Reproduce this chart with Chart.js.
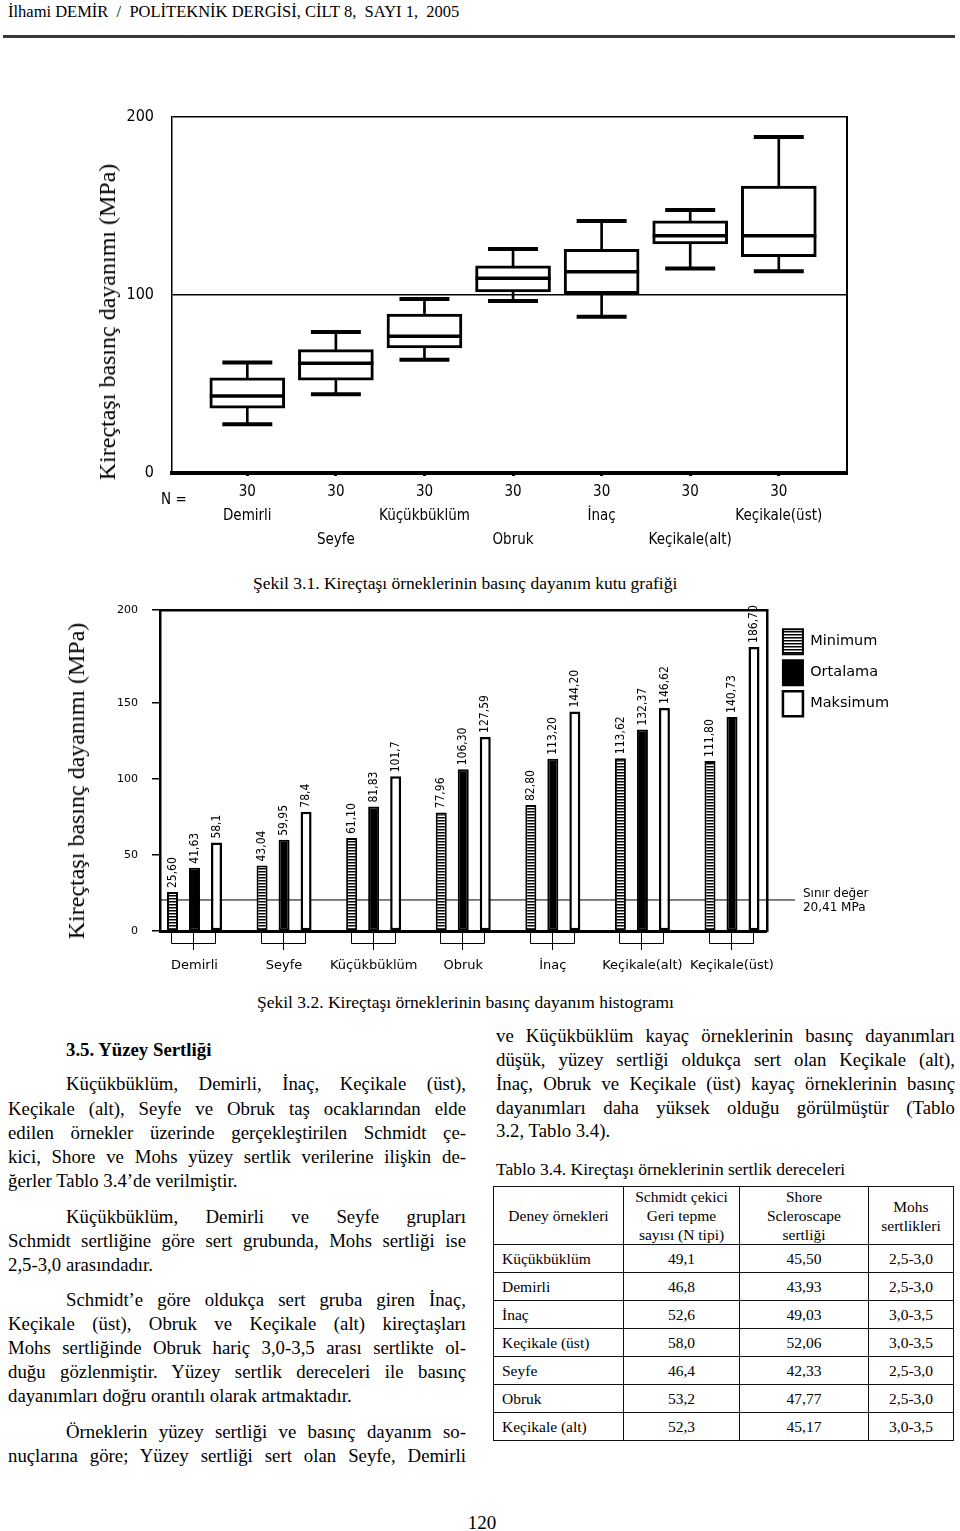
<!DOCTYPE html>
<html lang="tr">
<head>
<meta charset="utf-8">
<title>Kireçtaşı örneklerinin basınç dayanımı</title>
<script src="https://cdn.jsdelivr.net/npm/chart.js@4.4.1/dist/chart.umd.min.js"></script>
<style>
  html, body { margin: 0; padding: 0; background: #fff; }
  #page { position: relative; width: 960px; height: 1531px; overflow: hidden; color: #000;
          font-family: "Liberation Serif", "Times New Roman", serif; }
  .abs { position: absolute; white-space: pre; }
  .ln { position: absolute; white-space: nowrap; font-size: 18.8px; line-height: 24px; height: 24px; }
  .L  { left: 8px;  width: 458px; }
  .Li { left: 66px; width: 400px; }
  .R  { left: 496px; width: 459px; }
  .j  { text-align: justify; text-align-last: justify; }
  canvas { position: absolute; }
  .ytitle { position: absolute; white-space: nowrap; font-size: 24px; line-height: 28px;
            transform: translate(-50%, -50%) rotate(-90deg); }
  #tab { position: absolute; left: 493px; top: 1186px; border-collapse: collapse; table-layout: fixed;
         width: 460px; font-size: 15.5px; }
  #tab td { border: 1.3px solid #111; padding: 0; vertical-align: middle; text-align: center; height: 27px; }
  #tab tr.hd td { height: 57px; line-height: 19px; }
  #tab td.nm { text-align: left; padding-left: 8px; }
</style>
</head>
<body>
<div id="page">
  <div class="abs" style="left:8px;top:2px;font-size:16.5px;line-height:20px;">İlhami DEMİR  /  POLİTEKNİK DERGİSİ, CİLT 8,  SAYI 1,  2005</div>
  <div style="position:absolute;left:3px;top:35px;width:952px;height:3px;background:#3a3a3a;"></div>

  <!-- Şekil 3.1 kutu grafiği -->
  <canvas id="boxChart" width="800" height="470" style="left:60px;top:100px;"></canvas>
  <div class="ytitle" style="left:107px;top:322px;">Kireçtaşı basınç dayanımı (MPa)</div>
  <div class="abs" style="left:161px;top:489px;font-size:15px;line-height:20px;font-family:'Liberation Sans Narrow','DejaVu Sans Condensed',sans-serif;">N =</div>
  <div class="abs" style="left:253px;top:571px;font-size:17.5px;line-height:24px;">Şekil 3.1. Kireçtaşı örneklerinin basınç dayanım kutu grafiği</div>

  <!-- Şekil 3.2 histogram -->
  <canvas id="barChart" width="849" height="380" style="left:60px;top:595px;"></canvas>
  <div class="ytitle" style="left:76px;top:781px;">Kireçtaşı basınç dayanımı (MPa)</div>
  <div class="abs" style="left:257px;top:990px;font-size:17.5px;line-height:24px;">Şekil 3.2. Kireçtaşı örneklerinin basınç dayanım histogramı</div>

  <!-- sol sütun -->
  <div class="ln Li" style="top:1038px;font-weight:bold;">3.5. Yüzey Sertliği</div>
  <div class="ln Li j" style="top:1072px;">Küçükbüklüm, Demirli, İnaç, Keçikale (üst),</div>
  <div class="ln L j" style="top:1097px;">Keçikale (alt), Seyfe ve Obruk taş ocaklarından elde</div>
  <div class="ln L j" style="top:1121px;">edilen örnekler üzerinde gerçekleştirilen  Schmidt çe-</div>
  <div class="ln L j" style="top:1145px;">kici, Shore ve Mohs yüzey sertlik verilerine ilişkin de-</div>
  <div class="ln L" style="top:1169px;">ğerler Tablo 3.4’de verilmiştir.</div>

  <div class="ln Li j" style="top:1205px;">Küçükbüklüm, Demirli ve Seyfe grupları</div>
  <div class="ln L j" style="top:1229px;">Schmidt sertliğine göre sert grubunda, Mohs sertliği ise</div>
  <div class="ln L" style="top:1253px;">2,5-3,0 arasındadır.</div>

  <div class="ln Li j" style="top:1288px;">Schmidt’e göre oldukça sert gruba giren İnaç,</div>
  <div class="ln L j" style="top:1312px;">Keçikale (üst), Obruk ve Keçikale (alt) kireçtaşları</div>
  <div class="ln L j" style="top:1336px;">Mohs sertliğinde Obruk hariç 3,0-3,5 arası sertlikte ol-</div>
  <div class="ln L j" style="top:1360px;">duğu gözlenmiştir. Yüzey sertlik dereceleri ile basınç</div>
  <div class="ln L" style="top:1384px;">dayanımları doğru orantılı olarak artmaktadır.</div>

  <div class="ln Li j" style="top:1420px;">Örneklerin yüzey sertliği ve basınç dayanım so-</div>
  <div class="ln L j" style="top:1444px;">nuçlarına göre; Yüzey sertliği sert olan Seyfe, Demirli</div>

  <!-- sağ sütun -->
  <div class="ln R j" style="top:1024px;">ve Küçükbüklüm kayaç örneklerinin basınç dayanımları</div>
  <div class="ln R j" style="top:1048px;">düşük, yüzey sertliği oldukça sert olan Keçikale (alt),</div>
  <div class="ln R j" style="top:1072px;">İnaç, Obruk ve Keçikale (üst) kayaç örneklerinin basınç</div>
  <div class="ln R j" style="top:1096px;">dayanımları daha yüksek  olduğu  görülmüştür (Tablo</div>
  <div class="ln R" style="top:1119px;">3.2, Tablo 3.4).</div>

  <div class="abs" style="left:496px;top:1157px;font-size:17.5px;line-height:24px;">Tablo 3.4. Kireçtaşı örneklerinin sertlik dereceleri</div>
  <table id="tab">
    <colgroup><col style="width:130px"><col style="width:116px"><col style="width:129px"><col style="width:85px"></colgroup>
    <tr class="hd"><td>Deney örnekleri</td><td>Schmidt çekici<br>Geri tepme<br>sayısı (N tipi)</td><td>Shore<br>Scleroscape<br>sertliği</td><td>Mohs<br>sertlikleri</td></tr>
    <tr><td class="nm">Küçükbüklüm</td><td>49,1</td><td>45,50</td><td>2,5-3,0</td></tr>
    <tr><td class="nm">Demirli</td><td>46,8</td><td>43,93</td><td>2,5-3,0</td></tr>
    <tr><td class="nm">İnaç</td><td>52,6</td><td>49,03</td><td>3,0-3,5</td></tr>
    <tr><td class="nm">Keçikale (üst)</td><td>58,0</td><td>52,06</td><td>3,0-3,5</td></tr>
    <tr><td class="nm">Seyfe</td><td>46,4</td><td>42,33</td><td>2,5-3,0</td></tr>
    <tr><td class="nm">Obruk</td><td>53,2</td><td>47,77</td><td>2,5-3,0</td></tr>
    <tr><td class="nm">Keçikale (alt)</td><td>52,3</td><td>45,17</td><td>3,0-3,5</td></tr>
  </table>

  <div class="abs" style="left:442px;top:1511px;width:80px;text-align:center;font-size:19px;line-height:24px;">120</div>
</div>

<script>
/* ── veriler (şekillerden okunan değerler) ── */
var sites = ['Demirli', 'Seyfe', 'Küçükbüklüm', 'Obruk', 'İnaç', 'Keçikale(alt)', 'Keçikale(üst)'];
var sampleN = [30, 30, 30, 30, 30, 30, 30];

// Şekil 3.1 kutu grafiği (MPa)
var whiskerLow  = [27.4, 44.2, 63.6, 96.6, 87.8, 114.9, 113.4];
var quart1      = [36.4, 52.2, 70.3, 101.8, 100.7, 128.7, 121.5];
var medians     = [43.2, 61.7, 76.8, 109.4, 113.1, 133.3, 133.3];
var quart3      = [53.5, 69.3, 89.3, 116.4, 125.6, 141.6, 161.2];
var whiskerHigh = [62.1, 79.2, 97.7, 125.8, 141.6, 147.7, 188.8];
var outliers    = [null, null, 91.6, null, null, null, null];
var boxTicks    = [0, 100, 200];

// Şekil 3.2 histogram (MPa)
var minStrength  = [25.60, 43.04, 61.10, 77.96, 82.80, 113.62, 111.80];
var meanStrength = [41.63, 59.95, 81.83, 106.30, 113.20, 132.37, 140.73];
var maxStrength  = [58.1, 78.4, 101.7, 127.59, 144.20, 146.62, 186.70];
var minText  = ['25,60', '43,04', '61,10', '77,96', '82,80', '113,62', '111,80'];
var meanText = ['41,63', '59,95', '81,83', '106,30', '113,20', '132,37', '140,73'];
var maxText  = ['58,1', '78,4', '101,7', '127,59', '144,20', '146,62', '186,70'];
var limitValue = 20.41;
// orijinal şekilde "200" etiketi çerçevenin üst kenarında duruyor (ölçekte ~211)
var barTickValues = [0, 50, 100, 150, 211];
var barTickLabels = ['0', '50', '100', '150', '200'];

var NARROW = '"Liberation Sans Narrow", "DejaVu Sans Condensed", "Arial Narrow", sans-serif';
var SANS = '"DejaVu Sans", Verdana, sans-serif';

/* ── helpers: eksenleri sabit boyutlu yap (etiket taşma payı da sıfır) ── */
function noPad(s) { s.paddingTop = s.paddingBottom = s.paddingLeft = s.paddingRight = 0; }
function fixW(w) { return function (s) { s.width = w; noPad(s); }; }
function fixH(h) { return function (s) { s.height = h; noPad(s); }; }
function siteTicks(s) { s.ticks = sites.map(function (_, i) { return { value: i + 1 }; }); }
function pts(arr) {
  return arr.map(function (v, i) { return v == null ? null : { x: i + 1, y: v }; }).filter(Boolean);
}
function stripes() {
  var c = document.createElement('canvas'); c.width = 4; c.height = 3;
  var g = c.getContext('2d');
  g.fillStyle = '#fff'; g.fillRect(0, 0, 4, 3);
  g.fillStyle = '#000'; g.fillRect(0, 0, 4, 1.5);
  return g.createPattern(c, 'repeat');
}

/* ── Şekil 3.1: kutu grafiği (yüzen çubuk + çizgi noktaları) ── */
new Chart(document.getElementById('boxChart'), {
  type: 'bar',
  data: {
    datasets: [
      { label: 'bıyık', data: sites.map(function (_, i) { return { x: i + 1, y: [whiskerLow[i], whiskerHigh[i]] }; }),
        backgroundColor: '#000', barThickness: 2, grouped: false, order: 3 },
      { label: 'kutu', data: sites.map(function (_, i) { return { x: i + 1, y: [quart1[i], quart3[i]] }; }),
        backgroundColor: '#fff', borderColor: '#000', borderWidth: 3, borderSkipped: false,
        barThickness: 75, grouped: false, order: 2 },
      { type: 'scatter', label: 'uçlar', data: pts(whiskerLow).concat(pts(whiskerHigh)),
        pointStyle: 'line', pointRadius: 25, pointBorderWidth: 4, pointBorderColor: '#000', order: 1 },
      { type: 'scatter', label: 'medyan', data: pts(medians),
        pointStyle: 'line', pointRadius: 37.5, pointBorderWidth: 3.5, pointBorderColor: '#000', order: 1 },
      { type: 'scatter', label: 'aykırı', data: pts(outliers),
        pointStyle: 'circle', pointRadius: 1.5, pointBackgroundColor: '#000', pointBorderWidth: 0, order: 0 }
    ]
  },
  options: {
    responsive: false, animation: false, events: [], devicePixelRatio: 1,
    layout: { autoPadding: false, padding: { left: 0, top: 17, right: 13, bottom: 0 } },
    plugins: { legend: { display: false }, tooltip: { enabled: false } },
    scales: {
      x: {
        type: 'linear', min: 0.15, max: 7.77, offset: false,
        afterBuildTicks: siteTicks, afterFit: fixH(97),
        grid: { offset: false, drawOnChartArea: false, drawTicks: true, tickLength: 3, tickWidth: 3, tickColor: '#000' },
        border: { color: '#000', width: 4 },
        ticks: {
          autoSkip: false, maxRotation: 0, padding: 4, color: '#000',
          font: { family: NARROW, size: 15, lineHeight: '24px' },
          callback: function (v) {
            var i = v - 1;
            return i % 2 ? [String(sampleN[i]), '', sites[i]] : [String(sampleN[i]), sites[i]];
          }
        }
      },
      y: {
        min: 0, max: 200,
        afterBuildTicks: function (s) { s.ticks = boxTicks.map(function (v) { return { value: v }; }); },
        afterFit: fixW(112),
        grid: { color: '#000', lineWidth: 1.5, drawTicks: false },
        border: { color: '#000', width: 1.5 },
        ticks: { padding: 18, color: '#000', font: { family: NARROW, size: 16 } }
      },
      yR: {
        position: 'right', afterFit: fixW(0),
        grid: { display: false }, ticks: { display: false },
        border: { color: '#000', width: 2 }
      }
    }
  }
});

/* ── Şekil 3.2: histogram ── */
var barExtras = {
  id: 'barExtras',
  beforeDatasetsDraw: function (chart) {
    // sınır değer çizgisi
    var ctx = chart.ctx, a = chart.chartArea, ly = chart.scales.y.getPixelForValue(limitValue);
    ctx.save();
    ctx.strokeStyle = '#000'; ctx.lineWidth = 1;
    ctx.beginPath(); ctx.moveTo(a.left, ly); ctx.lineTo(a.right + 28, ly); ctx.stroke();
    ctx.fillStyle = '#000'; ctx.font = '12px ' + SANS; ctx.textBaseline = 'middle'; ctx.textAlign = 'left';
    ctx.fillText('Sınır değer', a.right + 36, ly - 6);
    ctx.fillText(limitValue.toFixed(2).replace('.', ',') + ' MPa', a.right + 36, ly + 8);
    ctx.restore();
  },
  afterDatasetsDraw: function (chart) {
    var ctx = chart.ctx, a = chart.chartArea;
    ctx.save();
    // değer etiketleri (dikey)
    ctx.fillStyle = '#000'; ctx.font = '12px ' + NARROW; ctx.textAlign = 'left'; ctx.textBaseline = 'middle';
    chart.data.datasets.forEach(function (ds, di) {
      chart.getDatasetMeta(di).data.forEach(function (bar, i) {
        ctx.save(); ctx.translate(bar.x, bar.y - 4); ctx.rotate(-Math.PI / 2);
        ctx.fillText(ds.valueText[i], 0, 0); ctx.restore();
      });
    });
    // grup parantezleri
    var m0 = chart.getDatasetMeta(0).data, m1 = chart.getDatasetMeta(1).data, m2 = chart.getDatasetMeta(2).data;
    ctx.strokeStyle = '#000'; ctx.lineWidth = 1;
    var y0 = a.bottom + 1, y1 = a.bottom + 12, y2 = a.bottom + 19;
    m1.forEach(function (c, i) {
      var l = Math.round(m0[i].x) - 0.5, r = Math.round(m2[i].x) - 0.5, cx = Math.round(c.x) - 0.5;
      ctx.beginPath();
      ctx.moveTo(l, y0); ctx.lineTo(l, y1 + 0.5); ctx.lineTo(r, y1 + 0.5); ctx.lineTo(r, y0);
      ctx.moveTo(cx, y0); ctx.lineTo(cx, y2);
      ctx.stroke();
    });
    ctx.restore();
  }
};

new Chart(document.getElementById('barChart'), {
  type: 'bar',
  data: {
    datasets: [
      { label: 'Minimum', data: pts(minStrength), valueText: minText,
        backgroundColor: stripes(), borderColor: '#000', borderWidth: 2 },
      { label: 'Ortalama', data: pts(meanStrength), valueText: meanText,
        backgroundColor: '#000', borderColor: '#000', borderWidth: 2 },
      { label: 'Maksimum', data: pts(maxStrength), valueText: maxText,
        backgroundColor: '#fff', borderColor: '#000', borderWidth: 2.5 }
    ]
  },
  plugins: [barExtras],
  options: {
    responsive: false, animation: false, events: [], devicePixelRatio: 1,
    layout: { padding: { left: 0, top: 15, right: 10, bottom: 0 } },
    datasets: { bar: { categoryPercentage: 0.737, barPercentage: 0.5, borderSkipped: false } },
    plugins: {
      tooltip: { enabled: false },
      legend: {
        position: 'right', align: 'start',
        title: { display: true, text: ' ', padding: { top: 0, bottom: 0 }, font: { size: 11 } },
        labels: { boxWidth: 20, boxHeight: 25, padding: 6, color: '#000', font: { family: SANS, size: 14.5 } }
      }
    },
    scales: {
      x: {
        type: 'linear', min: 0.615, max: 7.39, offset: false,
        afterBuildTicks: siteTicks, afterFit: fixH(44),
        grid: { display: false, offset: false },
        border: { color: '#000', width: 3 },
        ticks: { autoSkip: false, maxRotation: 0, padding: 19, color: '#000', font: { family: SANS, size: 13 },
                 callback: function (v) { return sites[v - 1]; } }
      },
      xT: {
        type: 'linear', position: 'top', afterFit: fixH(0),
        grid: { display: false }, ticks: { display: false },
        border: { color: '#000', width: 2.5 }
      },
      y: {
        min: 0, max: 211,
        afterBuildTicks: function (s) { s.ticks = barTickValues.map(function (v) { return { value: v }; }); },
        afterFit: fixW(100),
        grid: { drawOnChartArea: false, drawTicks: true, tickLength: 8, color: '#000', lineWidth: 1.5 },
        border: { color: '#000', width: 2.5 },
        ticks: { padding: 14, color: '#000', font: { family: SANS, size: 11 },
                 callback: function (v, i) { return barTickLabels[i]; } }
      },
      yR: {
        position: 'right', afterFit: fixW(10),
        grid: { display: false }, ticks: { display: false },
        border: { color: '#000', width: 2.5 }
      }
    }
  }
});
</script>
</body>
</html>
